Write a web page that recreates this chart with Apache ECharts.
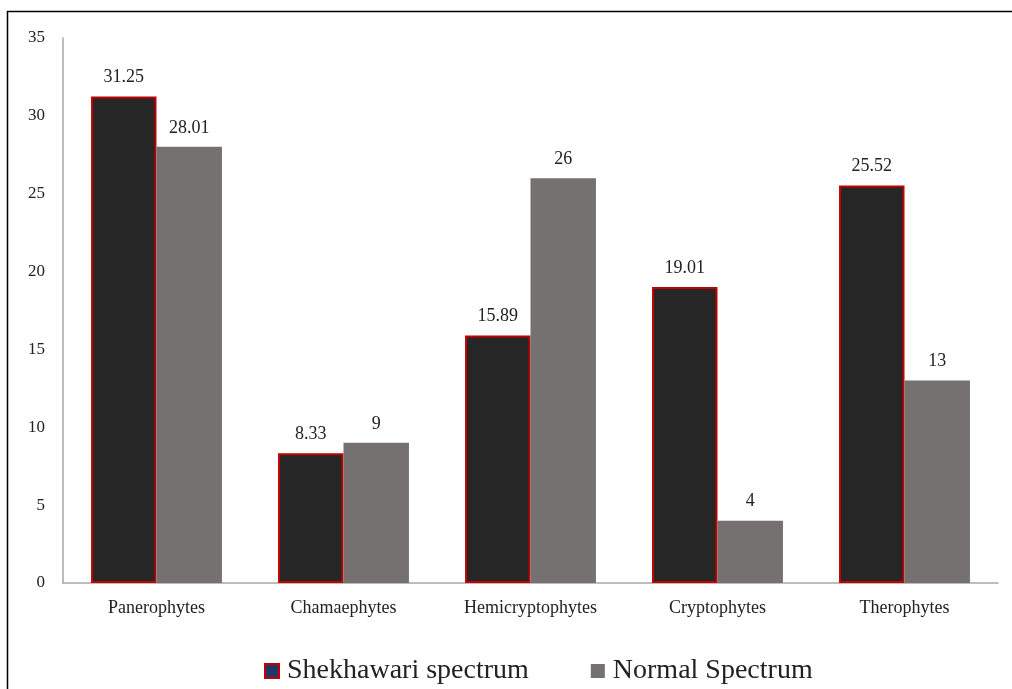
<!DOCTYPE html>
<html>
<head>
<meta charset="utf-8">
<script src="https://cdn.jsdelivr.net/npm/echarts@6/dist/echarts.min.js"></script>
<style>
  html, body { margin: 0; padding: 0; background: #fff; }
  #chart { width: 1012px; height: 689px; }
</style>
</head>
<body>
<div id="chart"></div>
<script>
const categories = ['Panerophytes', 'Chamaephytes', 'Hemicryptophytes', 'Cryptophytes', 'Therophytes'];
const shekhawari = [31.25, 8.33, 15.89, 19.01, 25.52];
const normal = [28.01, 9, 26, 4, 13];
const shekhawariLabels = ['31.25', '8.33', '15.89', '19.01', '25.52'];
const normalLabels = ['28.01', '9', '26', '4', '13'];

const font = 'Liberation Serif';
const mychart = echarts.init(document.getElementById('chart'));

const option = {
  animation: false,
  textStyle: { fontFamily: font },
  graphic: [{
    type: 'rect',
    shape: { x: 7.5, y: 11.5, width: 1100, height: 800 },
    style: { fill: 'none', stroke: '#000', lineWidth: 1.5 },
    silent: true
  }],
  grid: { left: 63, right: 14, top: 38, bottom: 106 },
  legend: {
    top: 652,
    left: 259,
    itemGap: 62,
    itemWidth: 14,
    itemHeight: 14,
    icon: 'rect',
    textStyle: { fontFamily: font, fontSize: 28, color: '#222', padding: [0, 0, 0, 3] },
    data: [
      { name: 'Shekhawari spectrum', itemStyle: { color: '#1f3864', borderColor: '#c00000', borderWidth: 2 } },
      { name: 'Normal Spectrum' }
    ]
  },
  xAxis: {
    type: 'category',
    data: categories,
    axisLine: { lineStyle: { color: '#a6a6a6', width: 1.5 } },
    axisTick: { show: false },
    axisLabel: { fontFamily: font, fontSize: 18, color: '#222', margin: 16 }
  },
  yAxis: {
    type: 'value',
    min: 0,
    max: 35,
    interval: 5,
    splitLine: { show: false },
    axisLine: { show: true, lineStyle: { color: '#a6a6a6', width: 1.5 } },
    axisTick: { show: false },
    axisLabel: { fontFamily: font, fontSize: 17, color: '#222', margin: 18 }
  },
  series: [
    {
      name: 'Shekhawari spectrum',
      type: 'bar',
      data: shekhawari,
      barWidth: '35%',
      barGap: '0%',
      itemStyle: { color: '#262626', borderColor: '#c00000', borderWidth: 2 },
      label: {
        show: true, position: 'top', distance: 10,
        fontFamily: font, fontSize: 18, color: '#222',
        formatter: p => shekhawariLabels[p.dataIndex]
      }
    },
    {
      name: 'Normal Spectrum',
      type: 'bar',
      data: normal,
      barWidth: '35%',
      itemStyle: { color: '#767171' },
      label: {
        show: true, position: 'top', distance: 10,
        fontFamily: font, fontSize: 18, color: '#222',
        formatter: p => normalLabels[p.dataIndex]
      }
    }
  ]
};
mychart.setOption(option);
</script>
</body>
</html>
